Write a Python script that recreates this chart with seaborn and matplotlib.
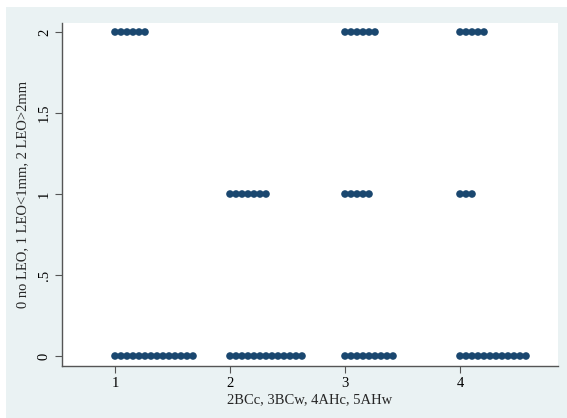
import numpy as np
import pandas as pd
import matplotlib
matplotlib.use("Agg")
import matplotlib.pyplot as plt
import seaborn as sns

groups = [1, 2, 3, 4]
count_at_0 = [14, 13, 9, 12]
count_at_1 = [0, 7, 5, 3]
count_at_2 = [6, 0, 6, 5]
levels = [0, 1, 2]
ytick_vals = [0, 0.5, 1, 1.5, 2]
ytick_labels = ["0", ".5", "1", "1.5", "2"]
xlabel = "2BCc, 3BCw, 4AHc, 5AHw"
ylabel = "0 no LEO, 1 LEO<1mm, 2 LEO>2mm"

rows = []
for g, c0, c1, c2 in zip(groups, count_at_0, count_at_1, count_at_2):
    for lvl, c in zip(levels, [c0, c1, c2]):
        for k in range(c):
            rows.append({"group": g, "value": lvl, "rank": k})
df = pd.DataFrame(rows)
step = 6 / 115
df["xpos"] = df["group"] + df["rank"] * step

sns.set_style("white")
plt.rcParams["font.family"] = ["Liberation Serif", "DejaVu Serif"]

W, H = 567, 418
fig = plt.figure(figsize=(W / 100, H / 100), dpi=100, facecolor="white")
bg = plt.Rectangle((6 / W, 0), 1 - 6 / W, 1 - 7 / H, transform=fig.transFigure,
                   facecolor="#EAF2F3", edgecolor="none", zorder=-10)
fig.patches.append(bg)

left, right, top, bottom = 62, 558, 23, 366
ax = fig.add_axes([left / W, 1 - bottom / H, (right - left) / W, (bottom - top) / H])
ax.set_zorder(5)
ax.set_facecolor("white")

sns.scatterplot(data=df, x="xpos", y="value", ax=ax, color="#1A476F",
                s=30, edgecolor="none", linewidth=0, legend=False, zorder=3)

ax.set_xlim(1 - 53 / 115, 4 + 98 / 115)
ax.set_ylim(-10 / 162, 2 + 9 / 162)
ax.set_xticks(groups)
ax.set_xticklabels([str(g) for g in groups], fontsize=10.5)
ax.set_yticks(ytick_vals)
ax.set_yticklabels(ytick_labels, fontsize=10.5, rotation=90, va="center")
ax.set_xlabel(xlabel, fontsize=10.5, labelpad=2)
ax.set_ylabel(ylabel, fontsize=10.5, labelpad=6)

for s in ["top", "right"]:
    ax.spines[s].set_visible(False)
for s in ["left", "bottom"]:
    ax.spines[s].set_color("#555555")
    ax.spines[s].set_linewidth(1.0)
ax.tick_params(axis="both", direction="out", length=5, width=0.8, color="#555555",
               labelcolor="black", pad=3, bottom=True, left=True)

fig.savefig("out.png", dpi=100, facecolor="white")
